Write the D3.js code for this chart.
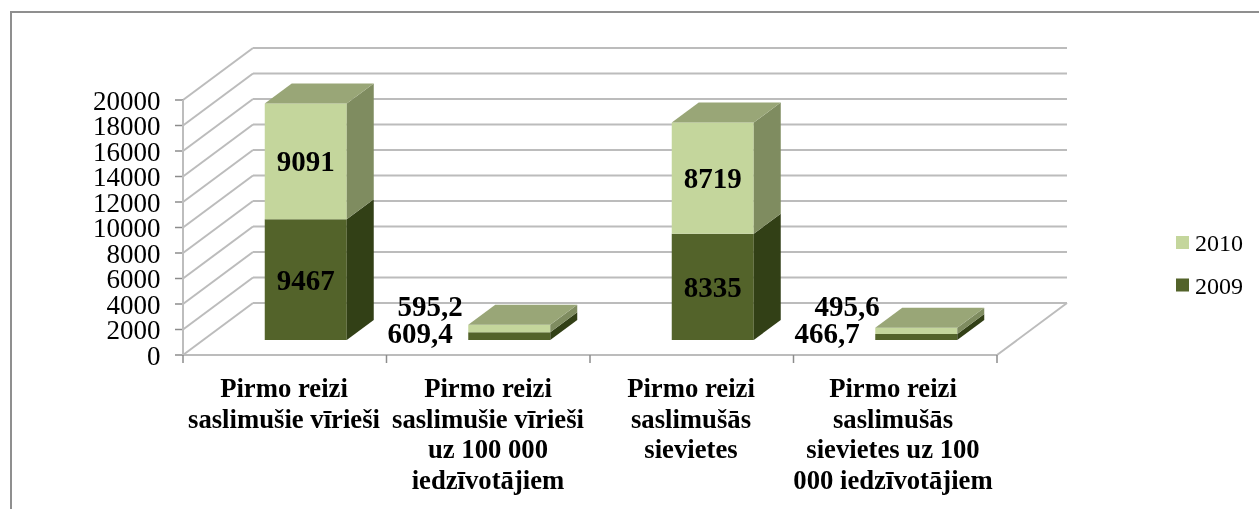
<!DOCTYPE html>
<html><head><meta charset="utf-8">
<script src="https://cdn.jsdelivr.net/npm/d3@7/dist/d3.min.js"></script>
<style>html,body{margin:0;padding:0;background:#fff}svg{display:block}text{font-family:"Liberation Serif",serif;fill:#000}</style>
</head><body><svg id="c" width="1259" height="509"></svg>
<script>
const categories=[["Pirmo reizi","saslimušie vīrieši"],["Pirmo reizi","saslimušie vīrieši","uz 100 000","iedzīvotājiem"],["Pirmo reizi","saslimušās","sievietes"],["Pirmo reizi","saslimušās","sievietes uz 100","000 iedzīvotājiem"]];
const values2009=[9467,609.4,8335,466.7];
const values2010=[9091,595.2,8719,495.6];
const labels2009=["9467","609,4","8335","466,7"];
const labels2010=["9091","595,2","8719","495,6"];
const ticks=d3.range(0,20001,2000);
const seriesNames=["2010","2009"];
const colors={"2009":{f:"#536329",s:"#333f18",t:"#6f8040"},"2010":{f:"#c4d69c",s:"#7f8c60",t:"#99a677"}};

const root=d3.select("#c");
root.append("defs").append("filter").attr("id","soft").attr("x",0).attr("y",0).attr("width","100%").attr("height","100%")
  .attr("filterUnits","userSpaceOnUse").append("feGaussianBlur").attr("stdDeviation",0.45);
const svg=root.append("g").attr("filter","url(#soft)");
svg.append("rect").attr("width",1259).attr("height",509).attr("fill","#fff");
const x=d3.scaleBand().domain(d3.range(4)).range([183,997]);
const y=d3.scaleLinear().domain([0,20000]).range([355,100]);
const depth=d3.scaleLinear().domain([0,1]).range([0,70]);
const depthY=d3.scaleLinear().domain([0,1]).range([0,-52]);
const grid="#bcbcbc";
const line=(a,b,w,c)=>svg.append("line").attr("x1",a[0]).attr("y1",a[1]).attr("x2",b[0]).attr("y2",b[1]).attr("stroke",c||grid).attr("stroke-width",w||2);

// frame: left and top edges only
svg.append("path").attr("d","M11 509V12H1259").attr("fill","none").attr("stroke","#8f8f8f").attr("stroke-width",2);

// walls
const x0=x.range()[0],x1=x.range()[1];
ticks.forEach(t=>{
  const yy=y(t);
  line([x0,yy],[x0+depth(1),yy+depthY(1)]);
  line([x0+depth(1),yy+depthY(1)],[x1+depth(1),yy+depthY(1)]);
  svg.append("line").attr("x1",175).attr("x2",x0).attr("y1",yy).attr("y2",yy).attr("stroke","#8c8c8c").attr("stroke-width",1.5);
  svg.append("text").attr("x",160.5).attr("y",yy+9.5).attr("text-anchor","end").attr("font-size",27).text(t);
});
line([x0,y(0)],[x1,y(0)]);
line([x1,y(0)],[x1+depth(1),y(0)+depthY(1)]);
line([x0,y(0)],[x0,y(20000)],2,"#bdbdbd");
d3.range(5).forEach(i=>{const p=x0+i*x.bandwidth();svg.append("line").attr("x1",p).attr("x2",p).attr("y1",y(0)).attr("y2",y(0)+8).attr("stroke","#8c8c8c").attr("stroke-width",1.5);});

// bars
const barW=82, bx=21, by=-15, ddx=27, ddy=-20;
const poly=(pts,c)=>svg.append("polygon").attr("points",pts.map(p=>p.join(",")).join(" ")).attr("fill",c);
const stack=i=>[{k:"2009",a:0,b:values2009[i],l:labels2009[i]},{k:"2010",a:values2009[i],b:values2009[i]+values2010[i],l:labels2010[i]}];
const labelPos={1:{"2009":[420,343],"2010":[430,316]},3:{"2009":[827,343],"2010":[847,316]}};
const catX=[284,488,691,893];
d3.range(4).forEach(i=>{
  const L=x(i)+x.bandwidth()/2-barW/2+bx,R=L+barW;
  stack(i).forEach(s=>{
    const yb=y(s.a)+by,yt=y(s.b)+by,c=colors[s.k];
    poly([[L,yb],[R,yb],[R,yt],[L,yt]],c.f);
    poly([[R,yb],[R+ddx,yb+ddy],[R+ddx,yt+ddy],[R,yt]],c.s);
    if(s.k==="2010") poly([[L,yt],[R,yt],[R+ddx,yt+ddy],[L+ddx,yt+ddy]],c.t);
  });
  stack(i).forEach(s=>{
    const lp=labelPos[i];
    const px=lp?lp[s.k][0]:(L+barW/2);
    const py=lp?lp[s.k][1]:((y(s.a)+y(s.b))/2+by+10);
    svg.append("text").attr("x",px).attr("y",py).attr("text-anchor","middle").attr("font-size",29).attr("font-weight","bold").text(s.l);
  });
  categories[i].forEach((ln,j)=>svg.append("text").attr("x",catX[i]).attr("y",397+j*30.7).attr("text-anchor","middle").attr("font-size",26.7).attr("font-weight","bold").text(ln));
});

// legend
seriesNames.forEach((n,i)=>{
  const yy=243+i*42.5;
  svg.append("rect").attr("x",1176).attr("y",yy-7).attr("width",13).attr("height",13).attr("fill",colors[n].f);
  svg.append("text").attr("x",1195).attr("y",yy+8).attr("font-size",24).text(n);
});
</script></body></html>
